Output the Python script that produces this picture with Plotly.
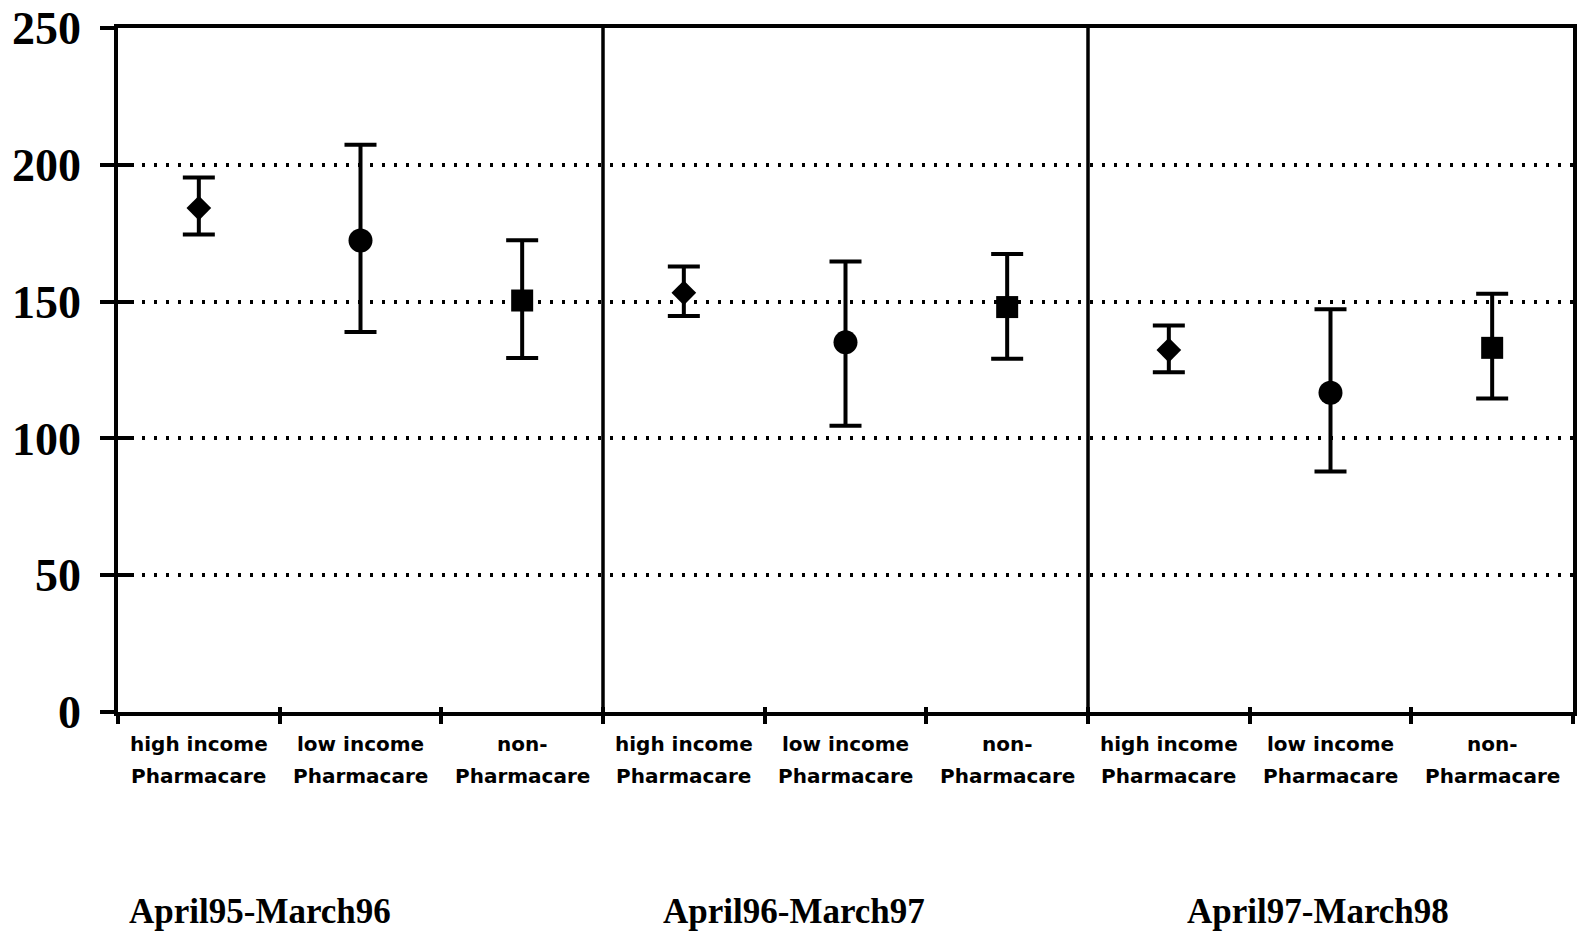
import plotly.graph_objects as go

# ---- data ----
periods = ["April95-March96", "April96-March97", "April97-March98"]
group_line1 = ["high income", "low income", "non-"]
group_line2 = ["Pharmacare", "Pharmacare", "Pharmacare"]

high_mean = [184.2, 153.2, 132.3]
high_upper = [195.4, 162.8, 141.3]
high_lower = [174.5, 144.7, 124.2]

low_mean = [172.3, 135.1, 116.7]
low_upper = [207.3, 164.7, 147.2]
low_lower = [138.9, 104.6, 87.9]

non_mean = [150.4, 148.0, 133.1]
non_upper = [172.4, 167.4, 152.9]
non_lower = [129.4, 129.1, 114.6]

y_ticks = [0, 50, 100, 150, 200, 250]

n_groups = len(group_line1)
n_cat = n_groups * len(periods)

series = [
    ("high income Pharmacare", 0, high_mean, high_upper, high_lower, "diamond", 19),
    ("low income Pharmacare", 1, low_mean, low_upper, low_lower, "circle", 24),
    ("non-Pharmacare", 2, non_mean, non_upper, non_lower, "square", 22),
]

fig = go.Figure()
for name, gi, mean, up, lo, sym, sz in series:
    xs = [p * n_groups + gi for p in range(len(periods))]
    fig.add_trace(go.Scatter(
        x=xs, y=mean, mode="markers", name=name,
        marker=dict(symbol=sym, size=sz, color="black", line=dict(width=0)),
        error_y=dict(type="data", symmetric=False,
                     array=[u - m for u, m in zip(up, mean)],
                     arrayminus=[m - l for m, l in zip(mean, lo)],
                     color="black", thickness=4, width=16),
        showlegend=False,
    ))

# dummy trace to activate overlay axes
fig.add_trace(go.Scatter(x=[None], y=[None], xaxis="x2", yaxis="y2", showlegend=False))

boundaries = [i - 0.5 for i in range(n_cat + 1)]
xr = [-0.5, n_cat - 0.5]

fig.update_layout(
    width=1580, height=933,
    margin=dict(l=118, r=3, t=25, b=221),
    plot_bgcolor="white", paper_bgcolor="white",
    xaxis=dict(range=xr, tickmode="array", tickvals=boundaries, showticklabels=False,
               ticks="outside", ticklen=8, tickwidth=3.5, tickcolor="black",
               showline=True, linecolor="black", linewidth=3.5, mirror=True,
               showgrid=False, zeroline=False),
    xaxis2=dict(range=xr, overlaying="x", anchor="y", side="bottom",
                tickmode="array", tickvals=boundaries, showticklabels=False,
                ticks="inside", ticklen=5, tickwidth=3.5, tickcolor="black",
                showline=False, showgrid=False, zeroline=False),
    yaxis=dict(range=[0, 250], tickmode="array", tickvals=y_ticks,
               ticktext=[str(v) for v in y_ticks],
               ticks="outside", ticklen=14, tickwidth=3.5, tickcolor="black",
               tickfont=dict(family="Liberation Serif", size=46, color="black", weight="bold"),
               ticklabelstandoff=10,
               showline=True, linecolor="black", linewidth=3.5, mirror=True,
               showgrid=True, gridcolor="black", gridwidth=3.5, griddash="3px,9px",
               zeroline=False),
    yaxis2=dict(range=[0, 250], overlaying="y", anchor="x", side="left",
                tickmode="array", tickvals=y_ticks, showticklabels=False,
                ticks="inside", ticklen=16, tickwidth=3.5, tickcolor="black",
                showline=False, showgrid=False, zeroline=False),
)

# period dividers
for p in range(1, len(periods)):
    fig.add_shape(type="line", xref="x", yref="paper",
                  x0=p * n_groups - 0.5, x1=p * n_groups - 0.5, y0=0, y1=1,
                  line=dict(color="black", width=3.5))

# category labels (two lines)
cat_font = dict(family="DejaVu Sans", size=20, color="black", weight="bold")
for p in range(len(periods)):
    for gi in range(n_groups):
        xi = p * n_groups + gi
        fig.add_annotation(x=xi, y=-0.0466, xref="x", yref="paper", text=group_line1[gi],
                           showarrow=False, font=cat_font, xanchor="center", yanchor="middle")
        fig.add_annotation(x=xi, y=-0.093, xref="x", yref="paper", text=group_line2[gi],
                           showarrow=False, font=cat_font, xanchor="center", yanchor="middle")

# period labels
period_x = [0.38, 3.68, 6.92]
for px, lab in zip(period_x, periods):
    fig.add_annotation(x=px, y=-0.291, xref="x", yref="paper", text=lab, showarrow=False,
                       font=dict(family="Liberation Serif", size=35, color="black", weight="bold"),
                       xanchor="center", yanchor="middle")

fig.write_html(
    "out.html",
    config={"displayModeBar": False},
    post_script="document.body.style.margin='0';document.body.style.overflow='hidden';",
)
